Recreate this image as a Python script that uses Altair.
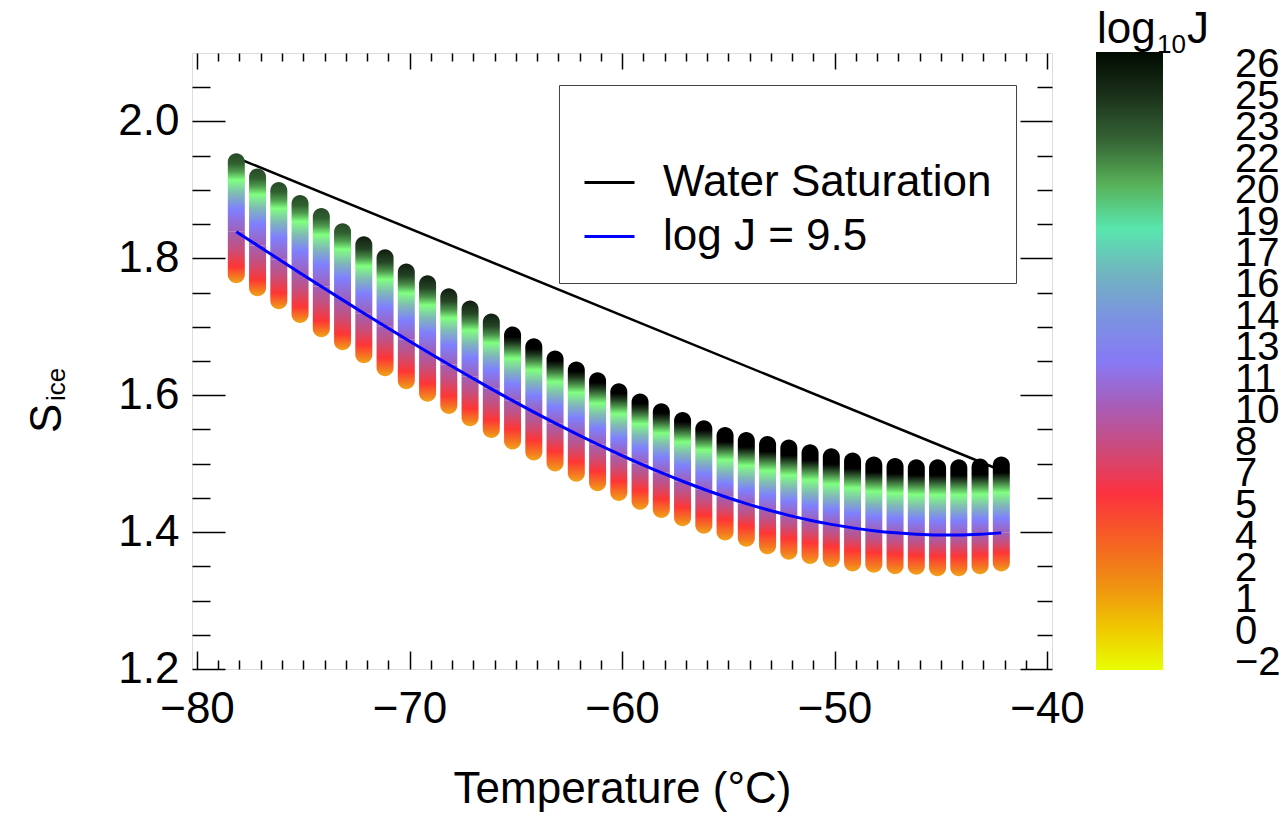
import altair as alt
import pandas as pd

# ---------------- data ----------------
T_C = [-78.15, -77.15, -76.15, -75.15, -74.15, -73.15, -72.15, -71.15, -70.15, -69.15,
       -68.15, -67.15, -66.15, -65.15, -64.15, -63.15, -62.15, -61.15, -60.15, -59.15,
       -58.15, -57.15, -56.15, -55.15, -54.15, -53.15, -52.15, -51.15, -50.15, -49.15,
       -48.15, -47.15, -46.15, -45.15, -44.15, -43.15, -42.15]
S_TOP = [1.941, 1.919, 1.899, 1.880, 1.861, 1.839, 1.820, 1.801, 1.780, 1.763,
         1.744, 1.726, 1.707, 1.688, 1.671, 1.653, 1.637, 1.621, 1.605, 1.590,
         1.576, 1.563, 1.551, 1.541, 1.534, 1.528, 1.523, 1.516, 1.510, 1.504,
         1.498, 1.496, 1.494, 1.494, 1.494, 1.495, 1.498]
S_J95 = [1.8390, 1.8188, 1.7987, 1.7787, 1.7589, 1.7393, 1.7199, 1.7007, 1.6818, 1.6632,
         1.6449, 1.6269, 1.6093, 1.5921, 1.5754, 1.5592, 1.5435, 1.5284, 1.5139, 1.5000,
         1.4868, 1.4743, 1.4626, 1.4517, 1.4417, 1.4326, 1.4245, 1.4174, 1.4113, 1.4062,
         1.4021, 1.3990, 1.3969, 1.3959, 1.3959, 1.3969, 1.3989]
S_LOW = [1.776, 1.757, 1.738, 1.718, 1.697, 1.678, 1.659, 1.640, 1.621, 1.603,
         1.585, 1.567, 1.550, 1.533, 1.517, 1.501, 1.486, 1.472, 1.458, 1.445,
         1.433, 1.421, 1.410, 1.400, 1.391, 1.380, 1.372, 1.366, 1.361, 1.355,
         1.353, 1.351, 1.350, 1.348, 1.348, 1.351, 1.355]
# colour reached at the top of each column: dark green -> black
TOP_TONE = ["g"] * 6 + ["d"] * 7 + ["k"] * 10 + ["kk"] * 14

WATER_T = [-78.15, -42.15]
WATER_S = [1.947, 1.490]

SERIES = ["Water Saturation", "log J = 9.5"]
X_LABELS = [-80, -70, -60, -50, -40]
Y_LABELS = [1.2, 1.4, 1.6, 1.8, 2.0]
CB_LABELS = ["26", "25", "23", "22", "20", "19", "17", "16", "14", "13",
             "11", "10", "8", "7", "5", "4", "2", "1", "0", "\u22122"]
CB_DOMAIN = [-2, 26]

# colour map of the colour bar (log10 J -> colour)
LOGJ_STOPS = [-2, 0.7, 3.0, 5.7, 8.4, 10.2, 12.3, 13.9, 16.4, 19.1, 20.2, 21.1, 22.9, 24.1, 26]
LOGJ_COLORS = ["#E8FF00", "#ECB010", "#F07020", "#FF3333", "#C05080", "#A060C0", "#7F7FFF",
               "#8090E0", "#80B8B8", "#80FF80", "#50A050", "#408040", "#2A4A2A", "#1A301A", "#000000"]

# ---------------- tables ----------------
cols = pd.DataFrame({"T": T_C, "S_top": S_TOP, "S_j95": S_J95, "S_low": S_LOW,
                     "tone": TOP_TONE, "series": SERIES[1]})
water = pd.DataFrame({"T": WATER_T, "S": WATER_S, "series": SERIES[0]})
cb = pd.DataFrame({"logJ": CB_DOMAIN})

W, H = 860, 616
FONT = "Liberation Sans"
xs = alt.Scale(domain=[-80, -40], nice=False, zero=False)
ys = alt.Scale(domain=[1.2, 2.1], nice=False, zero=False)

x_minor = list(range(-80, -39))
y_minor = [round(1.2 + 0.05 * i, 2) for i in range(18)]
x_major_test = "abs(datum.value % 10) < 0.01"
y_major_test = "abs(round(datum.value * 100) % 20) < 0.5"


def tick_axis(orient, offset, values, test, major, minor):
    return alt.Axis(orient=orient, offset=offset, values=values, labels=False, domain=False,
                    grid=False, title=None, ticks=True, tickColor="black", tickWidth=1.5,
                    tickSize={"condition": {"test": test, "value": major}, "value": minor})


def grad(stops):
    return alt.Gradient(gradient="linear", x1=0, x2=0, y1=1, y2=0,
                        stops=[alt.GradientStop(offset=o, color=c) for o, c in stops])


UPPER = {
    "g": [(0, "#A060B8"), (0.28, "#7F7FFF"), (0.48, "#80B8B8"), (0.66, "#80FF80"),
          (0.77, "#4E9A4E"), (0.87, "#30602F"), (1, "#284828")],
    "d": [(0, "#A060B8"), (0.25, "#7F7FFF"), (0.44, "#80B8B8"), (0.61, "#80FF80"),
          (0.72, "#4A904A"), (0.83, "#254525"), (1, "#101C10")],
    "k": [(0, "#A060B8"), (0.22, "#7F7FFF"), (0.40, "#80B8B8"), (0.57, "#80FF80"),
          (0.68, "#4A904A"), (0.78, "#1E361E"), (0.86, "#000000"), (1, "#000000")],
    "kk": [(0, "#A060B8"), (0.19, "#7F7FFF"), (0.36, "#80B8B8"), (0.53, "#80FF80"),
           (0.64, "#4A904A"), (0.73, "#1E361E"), (0.79, "#000000"), (1, "#000000")],
}
LOWER = {
    "g": [(0, "#F2A51A"), (0.12, "#F47A20"), (0.32, "#FF3535"), (0.68, "#C45080"), (1, "#A060B8")],
    "d": [(0, "#F2A51A"), (0.13, "#F47A20"), (0.36, "#FF3535"), (0.70, "#C45080"), (1, "#A060B8")],
    "k": [(0, "#F2A51A"), (0.15, "#F47A20"), (0.42, "#FF3535"), (0.73, "#C45080"), (1, "#A060B8")],
    "kk": [(0, "#F2A51A"), (0.16, "#F47A20"), (0.48, "#FF3535"), (0.76, "#C45080"), (1, "#A060B8")],
}

stroke_enc = alt.Stroke("series:N",
                        scale=alt.Scale(domain=SERIES, range=["black", "#0000FF"]),
                        legend=alt.Legend(orient="none", legendX=367, legendY=32, title=" ",
                                          titleFontSize=32, titlePadding=15,
                                          padding=24, strokeColor="#444444", symbolType="stroke",
                                          symbolSize=2500, symbolStrokeWidth=3, labelFontSize=44,
                                          labelFont=FONT, labelColor="black", labelOffset=27,
                                          rowPadding=5, labelLimit=600))

# water saturation line (under the columns) - carries the labelled axes
water_layer = alt.Chart(water).mark_line(strokeWidth=2.5).encode(
    x=alt.X("T:Q", scale=xs, axis=alt.Axis(orient="bottom", values=X_LABELS, format="d", ticks=False,
                                           domain=False, grid=False, labelFontSize=44, labelFont=FONT,
                                           labelColor="black", labelPadding=18,
                                           title="Temperature (\u00b0C)", titleFontSize=44,
                                           titleFont=FONT, titleFontWeight="normal",
                                           titleColor="black", titlePadding=36)),
    y=alt.Y("S:Q", scale=ys, axis=alt.Axis(orient="left", values=Y_LABELS, format=".1f", ticks=False,
                                           domain=False, grid=False, labelFontSize=44, labelFont=FONT,
                                           labelColor="black", labelPadding=13, title=None)),
    stroke=stroke_enc,
)

layers = [water_layer]
first = True
for tone in ["g", "d", "k", "kk"]:
    sub = alt.Chart(cols).transform_filter(alt.datum.tone == tone)
    if first:
        xa_low = tick_axis("bottom", -H, x_minor, x_major_test, 16, 8)
        ya_low = tick_axis("left", -W, y_minor, y_major_test, 32, 15)
        xa_up = tick_axis("top", -H, x_minor, x_major_test, 18, 9)
        ya_up = tick_axis("right", -W, y_minor, y_major_test, 33, 18)
    else:
        xa_low = ya_low = xa_up = ya_up = None
    lower = sub.mark_bar(width=17, color=grad(LOWER[tone]), y2Offset=8.5,
                         cornerRadiusBottomLeft=8.5, cornerRadiusBottomRight=8.5).encode(
        x=alt.X("T:Q", scale=xs, axis=xa_low),
        y=alt.Y("S_j95:Q", scale=ys, axis=ya_low),
        y2="S_low:Q",
    )
    upper = sub.mark_bar(width=17, color=grad(UPPER[tone]), yOffset=-8.5,
                         cornerRadiusTopLeft=8.5, cornerRadiusTopRight=8.5).encode(
        x=alt.X("T:Q", scale=xs, axis=xa_up),
        y=alt.Y("S_top:Q", scale=ys, axis=ya_up),
        y2="S_j95:Q",
    )
    layers += [lower, upper]
    first = False

blue_layer = alt.Chart(cols).mark_line(strokeWidth=3, interpolate="monotone").encode(
    x=alt.X("T:Q", scale=xs, axis=None),
    y=alt.Y("S_j95:Q", scale=ys, axis=None),
    stroke=stroke_enc,
)
layers.append(blue_layer)

# colour bar (legend of an invisible layer); one-digit labels padded with a figure space
cb_pos = [round(25.41 - 1.427 * i, 3) for i in range(len(CB_LABELS))]
cb_text = [s if len(s) > 1 else "\u2007" + s for s in CB_LABELS]
label_expr = "[" + ",".join("'%s'" % s for s in cb_text) + "][indexof([" + \
    ",".join(str(p) for p in cb_pos) + "], datum.value)]"
cb_layer = alt.Chart(cb).mark_point(opacity=0).encode(
    color=alt.Color("logJ:Q", scale=alt.Scale(domain=LOGJ_STOPS, range=LOGJ_COLORS),
                    legend=alt.Legend(orient="none", legendX=904, legendY=-1, direction="vertical",
                                      title=None, gradientLength=618, gradientThickness=67,
                                      gradientStrokeWidth=0, values=cb_pos, labelExpr=label_expr,
                                      labelFontSize=40, labelFont=FONT, labelColor="black",
                                      labelOffset=72, labelOverlap=False,
                                      padding=0, labelLimit=300))
)
layers.append(cb_layer)


def txt(s, x, y, size, angle=0):
    return alt.Chart(pd.DataFrame({"t": [s]})).mark_text(
        align="left", baseline="alphabetic", fontSize=size, font=FONT, color="black", angle=angle
    ).encode(text="t:N", x=alt.value(x), y=alt.value(y))


layers += [
    txt("S", -131, 380, 44, 270),
    txt("ice", -127, 348, 26, 270),
    txt("log", 905, -10, 44),
    txt("10", 965, 0, 26),
    txt("J", 995, -10, 44),
]

chart = alt.layer(*layers).resolve_axis(x="independent", y="independent").properties(
    width=W, height=H, autosize=alt.AutoSizeParams(type="none"),
    padding={"left": 192, "top": 53, "right": 231, "bottom": 149},
).configure_view(stroke="black", strokeWidth=2).configure(font=FONT)

chart.save("out.html", embed_options={"renderer": "svg", "actions": False})
